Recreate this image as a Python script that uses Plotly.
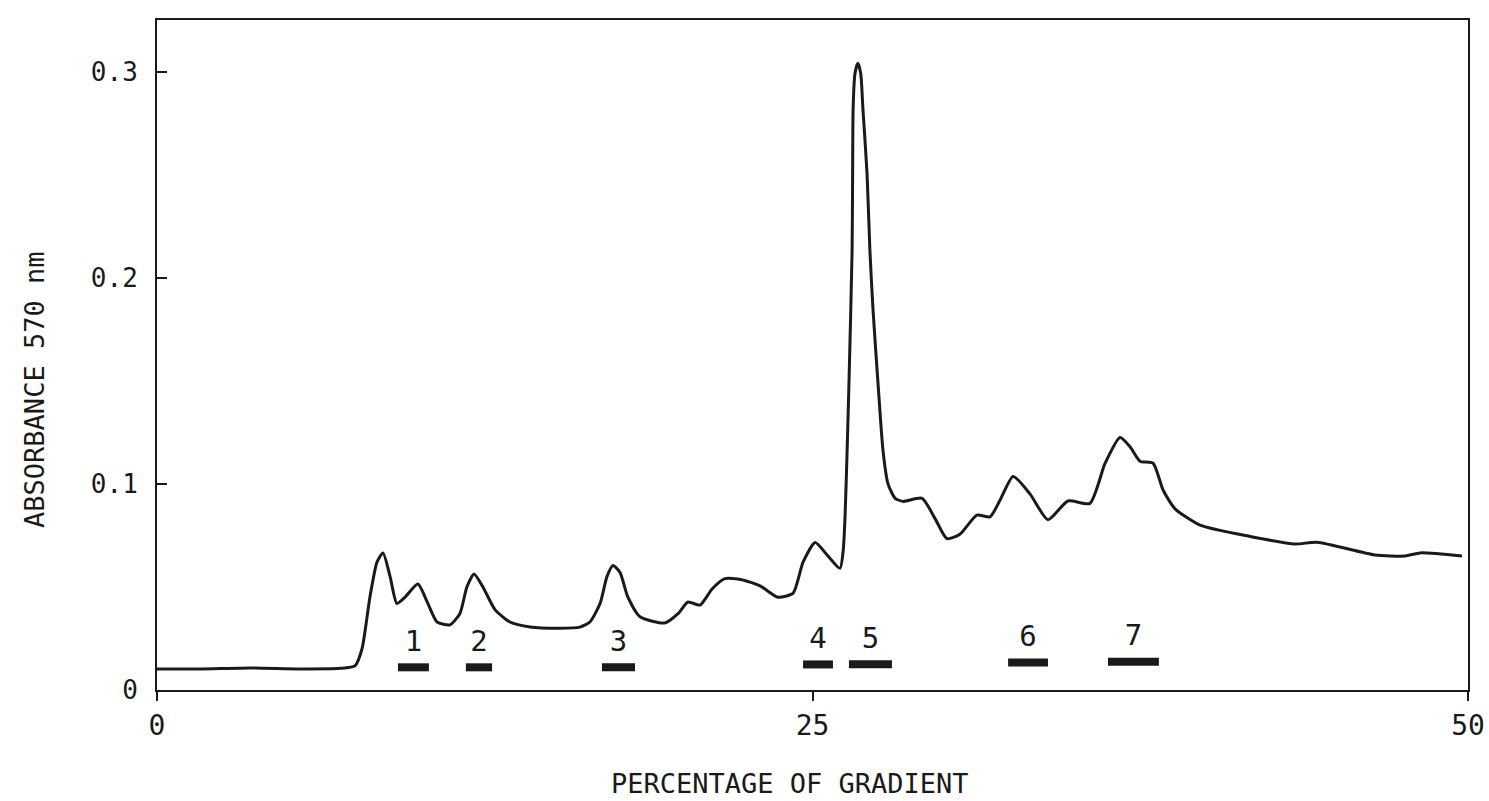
import plotly.graph_objects as go

# Absorbance trace (percentage of gradient vs absorbance at 570 nm)
gradient = [0.0, 1.64, 3.55, 5.45, 6.98, 7.55, 7.82, 8.12, 8.39, 8.62, 8.89, 9.15, 9.46, 9.95,
            10.33, 10.68, 11.17, 11.55, 11.82, 12.09, 12.43, 12.89, 13.46, 14.23, 15.37, 16.13,
            16.51, 16.9, 17.16, 17.39, 17.66, 17.96, 18.42, 19.37, 19.87, 20.25, 20.71, 21.17,
            21.66, 22.3, 23.0, 23.68, 24.26, 24.64, 25.1, 25.59, 26.05, 26.17, 26.24, 26.32,
            26.39, 26.51, 26.53, 26.55, 26.62, 26.73, 26.84, 26.92, 27.08, 27.19, 27.31, 27.5,
            27.69, 27.88, 28.15, 28.45, 29.18, 29.68, 30.13, 30.62, 31.27, 31.77, 32.15, 32.65,
            33.3, 33.98, 34.74, 35.58, 36.16, 36.73, 37.11, 37.49, 37.99, 38.37, 38.82, 39.78,
            41.69, 43.4, 44.24, 46.45, 47.6, 48.17, 49.77]
absorbance = [0.0102, 0.0102, 0.0107, 0.0102, 0.0105, 0.0117, 0.02, 0.045, 0.062, 0.0665, 0.055,
              0.042, 0.045, 0.0514, 0.042, 0.033, 0.0316, 0.037, 0.05, 0.0563, 0.05, 0.039, 0.033,
              0.0306, 0.030, 0.0305, 0.033, 0.042, 0.055, 0.0604, 0.057, 0.045, 0.0355, 0.0325,
              0.037, 0.0427, 0.0412, 0.049, 0.054, 0.0535, 0.0505, 0.045, 0.047, 0.062, 0.0716,
              0.065, 0.059, 0.0675, 0.0835, 0.116, 0.1485, 0.213, 0.2505, 0.2825, 0.299, 0.304,
              0.299, 0.2825, 0.2505, 0.213, 0.184, 0.1485, 0.116, 0.100, 0.093, 0.0915, 0.093,
              0.083, 0.0734, 0.0755, 0.0848, 0.084, 0.092, 0.1036, 0.095, 0.0826, 0.0917, 0.0905,
              0.11, 0.1225, 0.118, 0.111, 0.110, 0.097, 0.088, 0.080, 0.0745, 0.0708, 0.0717,
              0.0655, 0.065, 0.0665, 0.065]

# Pooled fractions
fraction_labels = ["1", "2", "3", "4", "5", "6", "7"]
fraction_start = [9.19, 11.78, 16.97, 24.64, 26.39, 32.46, 36.27]
fraction_end = [10.37, 12.78, 18.23, 25.78, 28.03, 33.98, 38.21]
fraction_level = [0.011, 0.011, 0.011, 0.0124, 0.0125, 0.0133, 0.0137]

x_ticks = [0, 25, 50]
y_ticks = [0, 0.1, 0.2, 0.3]
y_tick_text = ["0", "0.1", "0.2", "0.3"]

FONT = "DejaVu Sans Mono"
INK = "#1a1a1a"

fig = go.Figure()
fig.add_trace(go.Scatter(x=gradient, y=absorbance, mode="lines",
                         line=dict(color=INK, width=3, shape="spline", smoothing=0.6),
                         showlegend=False, hoverinfo="skip"))

for lab, x0, x1, lv in zip(fraction_labels, fraction_start, fraction_end, fraction_level):
    fig.add_trace(go.Scatter(x=[x0, x1], y=[lv, lv], mode="lines",
                             line=dict(color=INK, width=8), showlegend=False, hoverinfo="skip"))
    fig.add_trace(go.Scatter(x=[(x0 + x1) / 2], y=[lv + 0.0115], mode="text", text=[lab],
                             textfont=dict(family=FONT, size=29, color=INK),
                             showlegend=False, hoverinfo="skip"))

fig.update_layout(
    width=1489, height=801,
    margin=dict(l=157, r=21, t=20, b=111, autoexpand=False),
    paper_bgcolor="white", plot_bgcolor="white",
    font=dict(family=FONT, color=INK),
    xaxis=dict(range=[0, 50], tickvals=x_ticks, ticktext=[str(v) for v in x_ticks],
               automargin=False,
               showgrid=False, zeroline=False, showline=True, linecolor=INK, linewidth=2,
               mirror=True, ticks="outside", ticklen=9, tickwidth=2, tickcolor=INK,
               tickfont=dict(family=FONT, size=28, color=INK)),
    yaxis=dict(range=[0, 0.325], tickvals=y_ticks, ticktext=y_tick_text,
               automargin=False,
               showgrid=False, zeroline=False, showline=True, linecolor=INK, linewidth=2,
               mirror=True, ticks="inside", ticklen=10, tickwidth=2, tickcolor=INK,
               ticklabelstandoff=12,
               tickfont=dict(family=FONT, size=26, color=INK)),
    annotations=[
        dict(text="PERCENTAGE OF GRADIENT", xref="paper", yref="paper", x=0.483, y=-0.139,
             xanchor="center", yanchor="middle", showarrow=False,
             font=dict(family=FONT, size=27, color=INK)),
        dict(text="ABSORBANCE 570 nm", xref="paper", yref="paper", x=-0.093, y=0.448,
             xanchor="center", yanchor="middle", showarrow=False, textangle=-90,
             font=dict(family=FONT, size=27, color=INK)),
    ],
)

fig.write_html("out.html")
